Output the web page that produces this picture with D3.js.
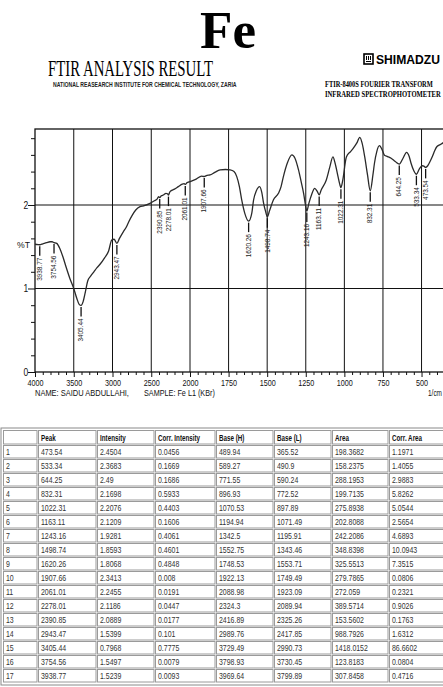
<!DOCTYPE html>
<html>
<head>
<meta charset="utf-8">
<script src="https://cdn.jsdelivr.net/npm/d3@7"></script>
<style>
  html, body { margin: 0; padding: 0; background: #fff; }
  svg { display: block; }
</style>
</head>
<body>
<div id="chart"></div>
<script>
// ---------- DATA ----------
const wavenumbers = [4000, 3960, 3938.77, 3900, 3850, 3806, 3780, 3754.56, 3720, 3680, 3640, 3600, 3550, 3500, 3460, 3430, 3405.44, 3380, 3350, 3320, 3280, 3240, 3200, 3161, 3100, 3050, 3010, 2980, 2943.47, 2910, 2860, 2820, 2790, 2750, 2700, 2645, 2600, 2516, 2460, 2425, 2405, 2390.85, 2370, 2344, 2310, 2290, 2278.01, 2258, 2200, 2150, 2100, 2075, 2061.01, 2040, 2000, 1960, 1925, 1907.66, 1890, 1870, 1840, 1805, 1770, 1740, 1715, 1697, 1680, 1665, 1645, 1620.26, 1600, 1588, 1570, 1549, 1535, 1523, 1510, 1498.74, 1485, 1460, 1427, 1410, 1395, 1370, 1340, 1320, 1297, 1280, 1264, 1250, 1243.16, 1230, 1213, 1192, 1175, 1163.11, 1150, 1117, 1095, 1074, 1060, 1041, 1030, 1022.31, 1010, 987, 960, 944, 920, 900, 885, 868, 850, 832.31, 815, 805, 790, 773, 755, 740, 720, 697, 670, 644.25, 620, 597, 580, 568, 550, 533.34, 515, 495, 485, 473.54, 460, 445, 430, 415, 400, 372, 350];
const transmittance = [1.53, 1.525, 1.524, 1.535, 1.55, 1.56, 1.56, 1.55, 1.54, 1.48, 1.38, 1.26, 1.12, 1.00, 0.88, 0.81, 0.797, 0.84, 0.96, 1.09, 1.15, 1.20, 1.25, 1.29, 1.37, 1.45, 1.58, 1.59, 1.54, 1.60, 1.68, 1.74, 1.80, 1.87, 1.94, 1.98, 1.99, 2.02, 2.05, 2.07, 2.10, 2.089, 2.11, 2.12, 2.14, 2.135, 2.119, 2.16, 2.19, 2.22, 2.25, 2.255, 2.246, 2.265, 2.28, 2.31, 2.345, 2.341, 2.355, 2.36, 2.39, 2.42, 2.425, 2.42, 2.40, 2.34, 2.22, 2.06, 1.90, 1.807, 1.90, 2.06, 2.17, 2.22, 2.15, 2.02, 1.92, 1.859, 1.93, 2.06, 2.14, 2.22, 2.34, 2.50, 2.60, 2.56, 2.42, 2.28, 2.14, 1.98, 1.928, 2.02, 2.12, 2.20, 2.16, 2.121, 2.18, 2.30, 2.45, 2.575, 2.50, 2.34, 2.25, 2.208, 2.30, 2.575, 2.64, 2.675, 2.74, 2.81, 2.74, 2.575, 2.36, 2.17, 2.36, 2.50, 2.64, 2.71, 2.66, 2.595, 2.58, 2.56, 2.52, 2.49, 2.56, 2.63, 2.58, 2.50, 2.41, 2.368, 2.43, 2.47, 2.465, 2.450, 2.47, 2.52, 2.58, 2.65, 2.70, 2.73, 2.76];

const xTickLabels = [4000, 3500, 3000, 2500, 2000, 1750, 1500, 1250, 1000, 750, 500];
const yTickLabels = [0, 1, 2];

// peak table
const peakNo        = [1, 2, 3, 4, 5, 6, 7, 8, 9, 10, 11, 12, 13, 14, 15, 16, 17];
const peak          = [473.54, 533.34, 644.25, 832.31, 1022.31, 1163.11, 1243.16, 1498.74, 1620.26, 1907.66, 2061.01, 2278.01, 2390.85, 2943.47, 3405.44, 3754.56, 3938.77];
const intensity     = [2.4504, 2.3683, 2.49, 2.1698, 2.2076, 2.1209, 1.9281, 1.8593, 1.8068, 2.3413, 2.2455, 2.1186, 2.0889, 1.5399, 0.7968, 1.5497, 1.5239];
const corrIntensity = [0.0456, 0.1669, 0.1686, 0.5933, 0.4403, 0.1606, 0.4061, 0.4601, 0.4848, 0.008, 0.0191, 0.0447, 0.0177, 0.101, 0.7775, 0.0079, 0.0093];
const baseH         = [489.94, 589.27, 771.55, 896.93, 1070.53, 1194.94, 1342.5, 1552.75, 1748.53, 1922.13, 2088.98, 2324.3, 2416.89, 2989.76, 3729.49, 3798.93, 3969.64];
const baseL         = [365.52, 490.9, 590.24, 772.52, 897.89, 1071.49, 1195.91, 1343.46, 1553.71, 1749.49, 1923.09, 2089.94, 2325.26, 2417.85, 2990.73, 3730.45, 3799.89];
const area          = [198.3682, 158.2375, 288.1953, 199.7135, 275.8938, 202.8088, 242.2086, 348.8398, 325.5513, 279.7865, 272.059, 389.5714, 153.5602, 988.7926, 1418.0152, 123.8183, 307.8458];
const corrArea      = [1.1971, 1.4055, 2.9883, 5.8262, 5.0544, 2.5654, 4.6893, 10.0943, 7.3515, 0.0806, 0.2321, 0.9026, 0.1763, 1.6312, 86.6602, 0.0804, 0.4716];
const tableHeaders  = ["", "Peak", "Intensity", "Corr. Intensity", "Base (H)", "Base (L)", "Area", "Corr. Area"];

// ---------- DRAW ----------
(function () {
const W = 443, H = 687;
const SANS = "'Liberation Sans', Arial, sans-serif";
const SERIF = "'Liberation Serif', 'Times New Roman', serif";

const svg = d3.select("#chart").append("svg")
  .attr("width", W).attr("height", H)
  .attr("viewBox", `0 0 ${W} ${H}`);

// text squeezed horizontally (via scale) to a target width
function fitText(tx, ty, str, size, len, opts = {}) {
  const t = svg.append("text")
    .attr("font-family", opts.family || SANS)
    .attr("font-weight", opts.weight || "normal")
    .attr("font-size", size)
    .attr("fill", opts.fill || "#111")
    .text(str);
  const natural = t.node().getComputedTextLength() || len;
  t.attr("transform", `translate(${tx},${ty}) scale(${len / natural},1)`);
  return t;
}

// Titles
fitText(200, 47.5, "Fe", 53, 56, { family: SERIF, weight: "bold", fill: "#000" });
fitText(48, 75.5, "FTIR ANALYSIS RESULT", 24, 165, { family: SERIF, fill: "#000" });
fitText(53, 87, "NATIONAL REASEARCH INSTITUTE FOR CHEMICAL TECHNOLOGY, ZARIA", 7.5, 184, { weight: "bold", fill: "#222" });

// Shimadzu logo
const logo = svg.append("g");
logo.append("rect").attr("x", 364).attr("y", 54).attr("width", 9).attr("height", 10)
  .attr("fill", "none").attr("stroke", "#000").attr("stroke-width", 1.6);
logo.append("path").attr("d", "M366.5,56 v4 M368.5,56 v4 M370.5,56 v4 M366,61.5 h5")
  .attr("stroke", "#000").attr("stroke-width", 1);
fitText(376, 64, "SHIMADZU", 12, 64, { weight: "bold", fill: "#000" });
fitText(325, 87, "FTIR-8400S FOURIER TRANSFORM", 7.5, 108, { family: SERIF, weight: "bold", fill: "#000" });
fitText(325, 96.5, "INFRARED SPECTROPHOTOMETER", 7.5, 116, { family: SERIF, weight: "bold", fill: "#000" });

// Scales
const x = d3.scaleLinear().domain([4000, 2000, 350]).range([35, 190, 444.7]);
const y = d3.scaleLinear().domain([0, 2.91]).range([372, 129]);
const pLeft = x(4000), pRight = x(350), pTop = y(2.91), pBottom = y(0);

const plot = svg.append("g");

// Grid lines
plot.selectAll(".vgrid").data(xTickLabels.slice(1)).join("line")
  .attr("x1", d => x(d)).attr("x2", d => x(d))
  .attr("y1", pTop).attr("y2", pBottom)
  .attr("stroke", "#111").attr("stroke-width", 1);
plot.selectAll(".hgrid").data(yTickLabels.slice(1)).join("line")
  .attr("x1", pLeft).attr("x2", pRight)
  .attr("y1", d => y(d)).attr("y2", d => y(d))
  .attr("stroke", "#111").attr("stroke-width", 1.2);
// Frame
plot.append("rect").attr("x", pLeft).attr("y", pTop)
  .attr("width", pRight - pLeft).attr("height", pBottom - pTop)
  .attr("fill", "none").attr("stroke", "#111").attr("stroke-width", 1.3);

// Bottom axis
const minorX = d3.range(3900, 2000, -100).concat(d3.range(1950, 349, -50))
  .filter(v => !xTickLabels.includes(v));
const xAxisMinor = d3.axisBottom(x).tickValues(minorX).tickSize(3).tickFormat("");
const xAxisMajor = d3.axisBottom(x).tickValues(xTickLabels).tickSize(5).tickPadding(2).tickFormat(d3.format("d"));
const gxm = svg.append("g").attr("transform", `translate(0,${pBottom})`).call(xAxisMinor);
const gx = svg.append("g").attr("transform", `translate(0,${pBottom})`).call(xAxisMajor);
[gxm, gx].forEach(g => { g.select(".domain").remove(); g.selectAll("line").attr("stroke", "#111"); });
gx.selectAll("text").attr("font-family", SANS).attr("font-size", 9.5).attr("fill", "#111")
  .attr("transform", "scale(0.76,1)");

// Left axis
const minorY = d3.range(0.2, 2.9, 0.2).filter(v => Math.abs(v - 1) > 0.01 && Math.abs(v - 2) > 0.01);
const yAxisMinor = d3.axisLeft(y).tickValues(minorY).tickSize(4).tickFormat("");
const yAxisMajor = d3.axisLeft(y).tickValues(yTickLabels).tickSize(7).tickPadding(1).tickFormat(d3.format("d"));
const gym = svg.append("g").attr("transform", `translate(${pLeft},0)`).call(yAxisMinor);
const gy = svg.append("g").attr("transform", `translate(${pLeft},0)`).call(yAxisMajor);
[gym, gy].forEach(g => { g.select(".domain").remove(); g.selectAll("line").attr("stroke", "#111"); });
gy.selectAll("text").attr("font-family", SANS).attr("font-size", 10).attr("fill", "#111")
  .attr("transform", "scale(0.85,1)");

fitText(17, 248, "%T", 9.5, 13);
fitText(35, 396, "NAME: SAIDU ABDULLAHI,", 9.5, 94);
fitText(144, 396, "SAMPLE: Fe L1 (KBr)", 9.5, 71);
fitText(428, 396, "1/cm", 9.5, 14);

// Spectrum line
const pts = wavenumbers.map((w, i) => [x(w), y(transmittance[i])]);
svg.append("defs").append("clipPath").attr("id", "clip")
  .append("rect").attr("x", pLeft).attr("y", pTop).attr("width", pRight - pLeft).attr("height", pBottom - pTop);
svg.append("path").datum(pts)
  .attr("clip-path", "url(#clip)")
  .attr("d", d3.line().curve(d3.curveMonotoneX))
  .attr("fill", "none").attr("stroke", "#2a2a2a").attr("stroke-width", 1.3);

// Peak markers
const pk = svg.append("g");
peak.forEach((p, i) => {
  const px = x(p), py = y(intensity[i]);
  pk.append("line").attr("x1", px).attr("x2", px).attr("y1", py + 1.5).attr("y2", py + 11)
    .attr("stroke", "#111").attr("stroke-width", 1.3);
  pk.append("text")
    .attr("transform", `translate(${px},${py + 13}) rotate(-90) scale(0.82,1)`)
    .attr("text-anchor", "end").attr("dominant-baseline", "central")
    .attr("font-family", SANS).attr("font-size", 7.8).attr("fill", "#222")
    .text(p.toFixed(2));
});

// Table
const colX = [3, 38, 97, 155, 216, 274, 332, 389, 448];
const headerTop = 430, headerH = 15, rowH = 14;
const rowTop = i => headerTop + headerH + i * rowH;
const rows = peakNo.map((n, i) => [n, peak[i], intensity[i], corrIntensity[i], baseH[i], baseL[i], area[i], corrArea[i]]);
const tbl = svg.append("g");
tbl.append("rect").attr("x", colX[0] - 2).attr("y", headerTop - 2)
  .attr("width", colX[colX.length - 1] - colX[0] + 4).attr("height", headerH + rowH * rows.length + 4)
  .attr("fill", "none").attr("stroke", "#8a8a8a").attr("stroke-width", 1);
function cells(yTop, h, vals, header) {
  vals.forEach((v, c) => {
    tbl.append("rect").attr("x", colX[c] + 0.5).attr("y", yTop + 0.5)
      .attr("width", colX[c + 1] - colX[c] - 1.5).attr("height", h - 1.5)
      .attr("fill", "#fff").attr("stroke", "#9a9a9a").attr("stroke-width", 1);
    tbl.append("text")
      .attr("transform", `translate(${colX[c] + 3},${yTop + h / 2 + 0.5}) scale(${header ? 0.72 : 0.8},1)`)
      .attr("dominant-baseline", "central")
      .attr("font-family", SANS).attr("font-size", 8.7)
      .attr("font-weight", header ? "bold" : "normal")
      .attr("fill", header ? "#111" : "#333")
      .text(String(v));
  });
}
cells(headerTop, headerH, tableHeaders, true);
rows.forEach((r, i) => cells(rowTop(i), rowH, r, false));
})();
</script>
</body>
</html>
